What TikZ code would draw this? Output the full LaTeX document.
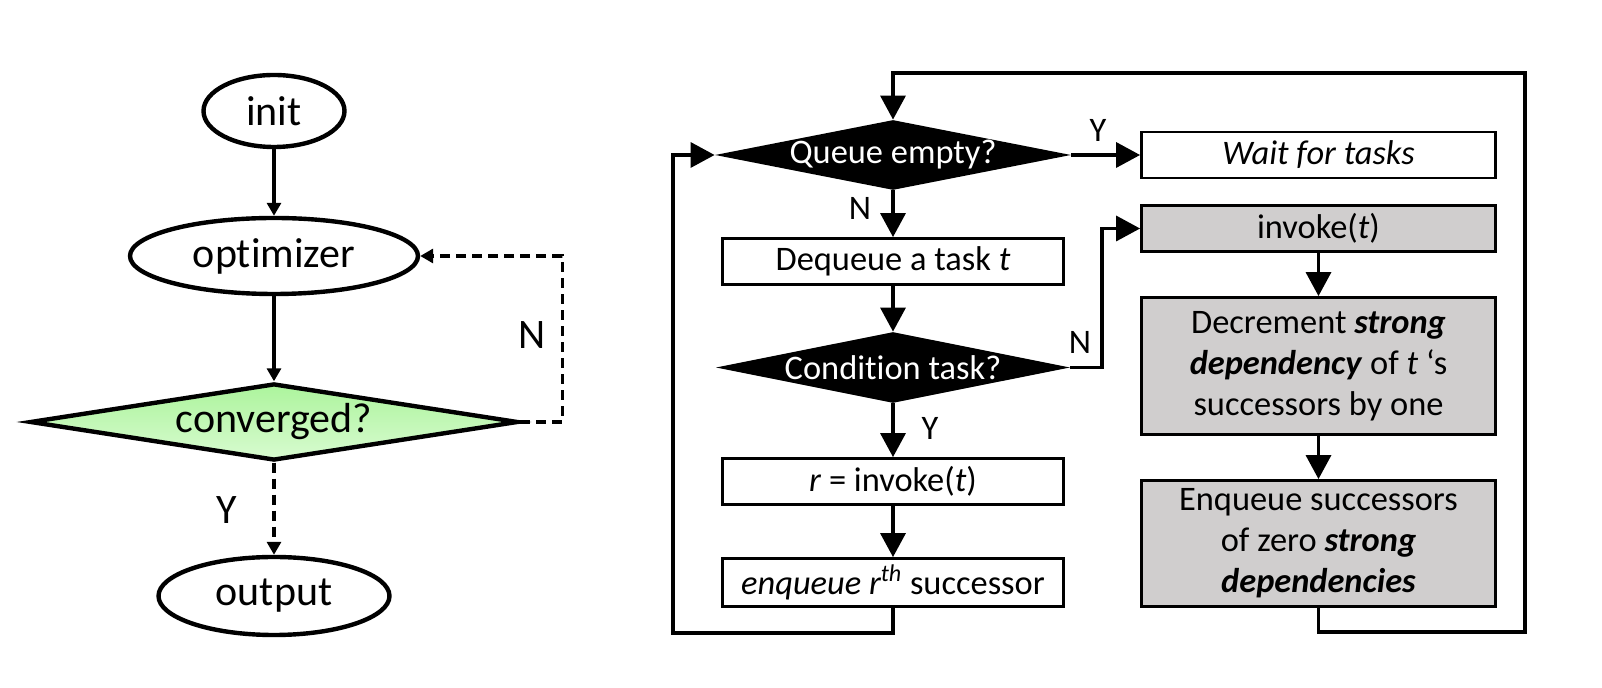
\documentclass[tikz,border=0pt]{standalone}
\usepackage{fontspec}
\setmainfont{Carlito}[Ligatures=NoCommon]
\usetikzlibrary{arrows.meta,shapes.geometric}

\definecolor{convtop}{RGB}{172,244,156}
\definecolor{convbot}{RGB}{216,251,208}
\definecolor{boxgray}{RGB}{208,206,206}

\begin{document}
\begin{tikzpicture}[x=0.5pt, y=-0.5pt,
  lfont/.style={font=\fontsize{21}{25}\selectfont},
  rfont/.style={font=\fontsize{17.2}{20.5}\selectfont},
  oval/.style={ellipse, draw, line width=2.2pt, inner sep=0pt, lfont},
  ldia/.style={diamond, draw, line width=2.2pt, inner sep=0pt,
    top color=convtop, bottom color=convbot, lfont},
  lflow/.style={line width=1.6pt, -{Triangle[length=6.5pt,width=7pt]}},
  ldash/.style={lflow, dash pattern=on 5pt off 3pt},
  rbox/.style={rectangle, draw, line width=1.4pt, inner sep=0pt,
    minimum width=177pt, minimum height=23pt, align=center, rfont},
  gbox/.style={rbox, fill=boxgray},
  rdia/.style={diamond, fill=black, text=white, inner sep=0pt, rfont},
  rflow/.style={line width=1.7pt, -{Triangle[length=12pt,width=12.5pt]}},
  lbl/.style={inner sep=0pt}
]

\useasboundingbox (0,0) rectangle (1602,688);

% ----------------------------
% LEFT: OPTIMIZER LOOP
% ----------------------------
\def\xL{274}

\node[oval, minimum width=70.5pt, minimum height=36pt] (init) at (\xL,111) {init};
\node[oval, minimum width=144pt, minimum height=38pt] (opt) at (\xL,256) {optimizer};
\node[ldia, minimum width=244pt, minimum height=38.5pt] (conv) at (\xL,422)
  {\makebox[0pt]{converged?}};
\node[oval, minimum width=115.5pt, minimum height=39pt] (out) at (\xL,596) {output};

\draw[lflow] (init) -- (opt);
\draw[lflow] (opt) -- (conv);
\draw[ldash] (conv) -- (out);
\draw[ldash] (conv.east) -- ++(42,0) |- (opt.east);

\node[lbl, lfont] (convN) at (532,335) {N};
\node[lbl, lfont] (convY) at (227,510) {Y};

% ----------------------------
% RIGHT: WORKER LOOP
% ----------------------------
\def\xA{893}
\def\xB{1318.5}

\coordinate (lloop) at (673,155);
\coordinate (rloop) at (1525,73);
\coordinate (njoin) at (1102,0);

% left column
\node[rdia, minimum width=178pt, minimum height=35pt] (qe) at (\xA,155)
  {\makebox[0pt]{Queue empty?}};
\node[rbox, minimum width=170.5pt] (deq) at (\xA,261.5) {Dequeue a task \textit{t}};
\node[rdia, minimum width=177pt, minimum height=35.5pt] (cond) at (\xA,367.5)
  {\makebox[0pt]{Condition task?}};
\node[rbox, minimum width=170.5pt] (rinv) at (\xA,481.5) {\textit{r} = invoke(\textit{t})};
\node[rbox, minimum width=170.5pt, minimum height=24pt] (enqr) at (\xA,582.5)
  {\textit{enqueue r\textsuperscript{th}} successor};

% right column
\node[rbox] (wait) at (\xB,155) {\textit{Wait for tasks}};
\node[gbox] (inv) at (\xB,228.5) {invoke(\textit{t})};
\node[gbox, minimum height=68.5pt] (dec) at (\xB,366)
  {Decrement \textbf{\textit{strong}}\\ \textbf{\textit{dependency}} of \textit{t} ‘s\\ successors by one};
\node[gbox, minimum height=63pt] (enq) at (\xB,543.5)
  {Enqueue successors\\ of zero \textbf{\textit{strong}}\\ \textbf{\textit{dependencies}}};

% connectors
\draw[rflow] (qe) -- (deq);
\draw[rflow] (deq) -- (cond);
\draw[rflow] (cond) -- (rinv);
\draw[rflow] (rinv) -- (enqr);
\draw[rflow] (qe) -- (wait);
\draw[rflow] (cond.east) -| (njoin |- inv.west) -- (inv.west);
\draw[rflow] (inv) -- (dec);
\draw[rflow] (dec) -- (enq);

% back to the queue test
\draw[rflow] (enqr.south) -- ++(0,25) -| (lloop) -- (qe.west);
\draw[rflow] (enq.south) -- ++(0,24) -| (rloop) -| (qe.north);

% labels
\node[lbl, rfont] (qeY) at (1098,130) {Y};
\node[lbl, rfont] (qeN) at (860,208) {N};
\node[lbl, rfont] (condN) at (1080,342) {N};
\node[lbl, rfont] (condY) at (930,428) {Y};

\end{tikzpicture}
\end{document}
